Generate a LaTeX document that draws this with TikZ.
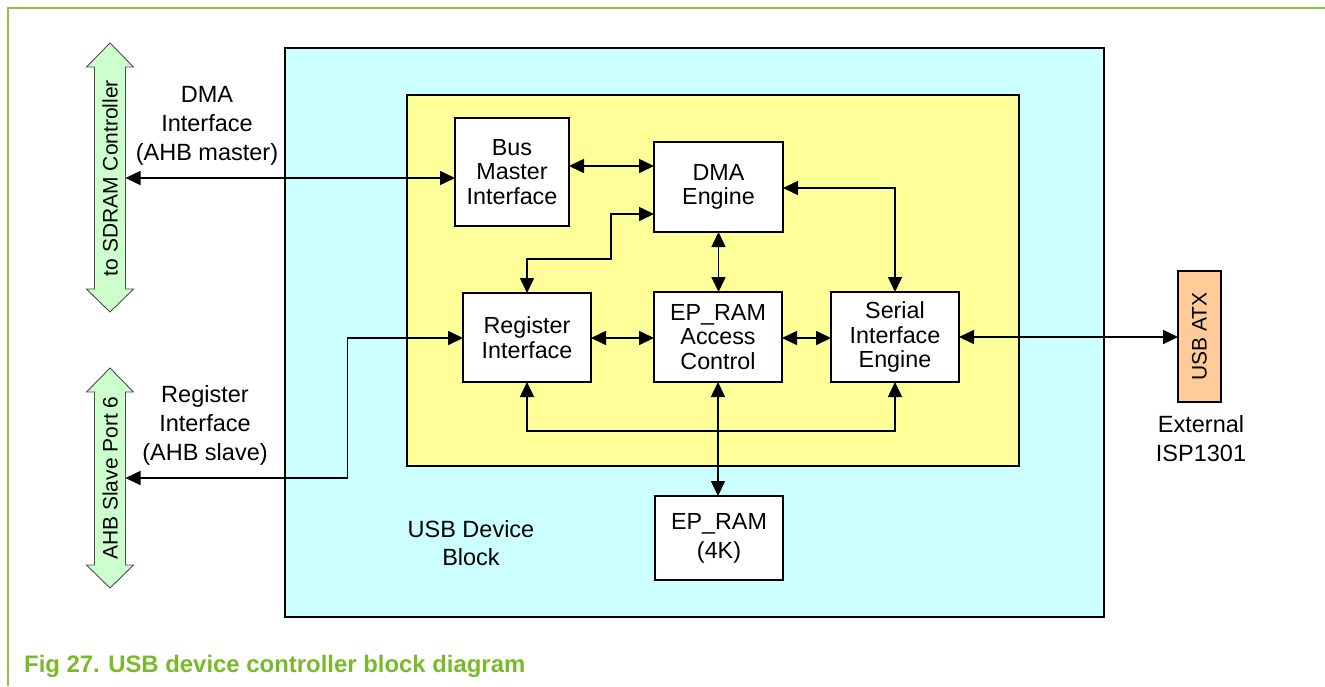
\documentclass[tikz,border=0pt]{standalone}
\usepackage{fontspec}
\setmainfont{Liberation Sans}
\usetikzlibrary{arrows.meta,calc}
\definecolor{frameG}{HTML}{8CC43F}
\definecolor{capG}{HTML}{7AB929}
\definecolor{cyanF}{HTML}{CCFFFF}
\definecolor{yelF}{HTML}{FFFF99}
\definecolor{grnF}{HTML}{CCFFCC}
\definecolor{peachF}{HTML}{FFCC99}
\begin{document}
\begin{tikzpicture}[x=1pt,y=-1pt,
  blk/.style={draw=black, line width=1.5pt, fill=white, inner sep=0pt, outer sep=0pt, align=center, font=\fontsize{23.3}{24.5}\selectfont},
  area/.style={draw=black, line width=1.6pt, inner sep=0pt, outer sep=0pt},
  conn/.style={line width=1.6pt, {Triangle[length=15pt,width=14pt]}-{Triangle[length=15pt,width=14pt]}},
  lbl/.style={align=center, inner sep=0pt, font=\fontsize{23.5}{29}\selectfont},
  rlbl/.style={rotate=90, inner sep=0pt, font=\fontsize{21}{24}\selectfont},
  bigarrow/.style={draw=black!70, line width=0.9pt, fill=grnF}]
\useasboundingbox (0,0) rectangle (1325,686);
% frame
\draw[frameG, line width=2pt] (7.5,686) -- (7.5,7.5) -- (1325,7.5);
% areas
\node[area, fill=cyanF, minimum width=819pt, minimum height=569pt] (usb) at (694.5,332.5) {};
\node[area, fill=yelF, minimum width=612pt, minimum height=371pt] (core) at (713,280.5) {};
% blocks
\node[blk, minimum width=114pt, minimum height=108pt] (bmi) at (512,172) {Bus\\Master\\Interface};
\node[blk, minimum width=129pt, minimum height=90pt] (dma) at (718.5,187) {DMA\\Engine};
\node[blk, minimum width=128pt, minimum height=89pt] (reg) at (527,337.5) {Register\\Interface};
\node[blk, minimum width=128pt, minimum height=90pt] (epac) at (718,337) {EP\_RAM\\Access\\Control};
\node[blk, minimum width=128pt, minimum height=90pt] (sie) at (895,337) {Serial\\Interface\\Engine};
\node[blk, minimum width=128pt, minimum height=84pt, font=\fontsize{23.3}{29}\selectfont] (epram) at (719,538) {EP\_RAM\\(4K)};
\node[blk, fill=peachF, minimum width=43pt, minimum height=131pt] (atx) at (1199.5,336.5) {};
\node[rlbl] (atxt) at (atx.center) {USB ATX};
% big green arrows
\path[bigarrow] (110,43) -- (133.5,67) -- (125.5,67) -- (125.5,289) -- (133.5,289) -- (110,312)
  -- (86.5,289) -- (94.5,289) -- (94.5,67) -- (86.5,67) -- cycle;
\node[rlbl] (sdram) at (110,178) {to SDRAM Controller};
\path[bigarrow] (110,368) -- (133.5,392) -- (125.5,392) -- (125.5,565) -- (133.5,565) -- (110,588)
  -- (86.5,565) -- (94.5,565) -- (94.5,392) -- (86.5,392) -- cycle;
\node[rlbl] (ahb) at (110,478) {AHB Slave Port 6};
\coordinate (sdramR) at (125.5,178);
\coordinate (ahbR) at (125.5,478);
% labels
\node[lbl] (dmalbl) at (207,126) {DMA\\Interface\\(AHB master)};
\node[lbl] (reglbl) at (205,425) {Register\\Interface\\(AHB slave)};
\node[lbl, font=\fontsize{23.5}{28}\selectfont] (usblbl) at (471,543) {USB Device\\Block};
\node[lbl] (extlbl) at (1201,439) {External\\ISP1301};
% connectors
\draw[conn] (sdramR) -- (bmi.west |- sdramR);
\draw[conn] (ahbR) -- ++(222,0) |- (reg.west |- 0,338);
\draw[conn] (bmi.east |- 0,166) -- (dma.west |- 0,166);
\draw[conn] (dma.west |- 0,214) -| (611,259) -| (reg.north);
\draw[conn] (dma.south) -- (dma.south |- epac.north);
\draw[conn] (reg.east |- 0,338) -- (epac.west |- 0,338);
\draw[conn] (epac.east |- 0,338) -- (sie.west |- 0,338);
\draw[conn] (dma.east |- 0,188) -| (sie.north);
\draw[conn] (sie.east |- 0,337) -- (atx.west |- 0,337);
\draw[conn] (reg.south) |- (720,431) -| (sie.south);
\draw[conn] (epac.south) -- (epac.south |- epram.north);
% caption
\node[anchor=base west, inner sep=0pt, text=capG, font=\fontsize{23.9}{28}\selectfont\bfseries] (cap) at (24,672.5) {Fig 27.\hspace{0.35em}USB device controller block diagram};
\end{tikzpicture}
\end{document}
